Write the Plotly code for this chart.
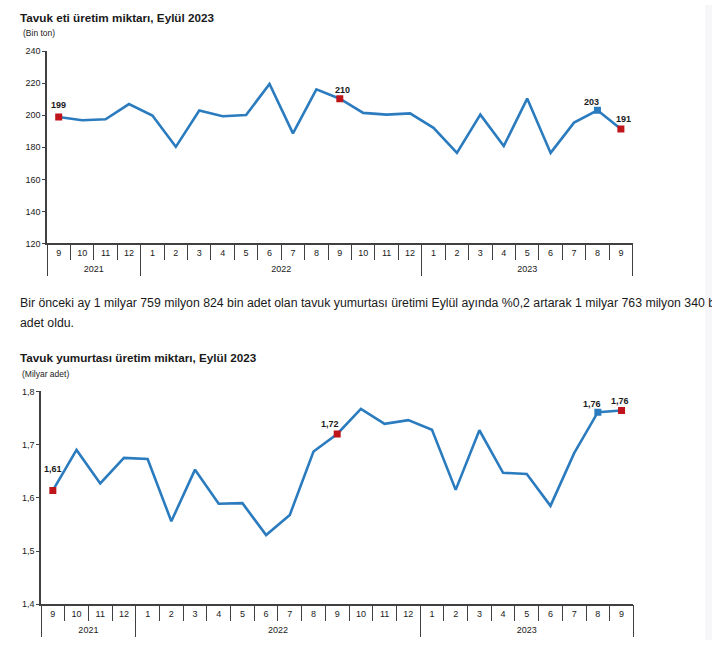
import plotly.graph_objects as go

# ---------------- data ----------------
months = ["9", "10", "11", "12", "1", "2", "3", "4", "5", "6", "7", "8",
          "9", "10", "11", "12", "1", "2", "3", "4", "5", "6", "7", "8", "9"]
years = ["2021", "2022", "2023"]
year_counts = [4, 12, 9]

meat = [198.9, 196.9, 197.5, 207.0, 199.8, 180.3, 203.0, 199.4, 200.2, 219.5,
        188.7, 216.2, 210.3, 201.5, 200.4, 201.2, 192.2, 176.5, 200.4, 180.8,
        210.4, 176.5, 195.4, 203.1, 191.4]
eggs = [1.614, 1.690, 1.627, 1.675, 1.673, 1.556, 1.653, 1.589, 1.590, 1.530,
        1.568, 1.687, 1.720, 1.767, 1.739, 1.746, 1.728, 1.615, 1.727, 1.647,
        1.645, 1.585, 1.684, 1.761, 1.764]
red_idx = [0, 12, 24]
blue_idx = [23]

title1 = "Tavuk eti üretim miktarı, Eylül 2023"
unit1 = "(Bin ton)"
title2 = "Tavuk yumurtası üretim miktarı, Eylül 2023"
unit2 = "(Milyar adet)"
para1 = ("Bir önceki ay 1 milyar 759 milyon 824 bin adet olan tavuk yumurtası üretimi "
         "Eylül ayında %0,2 artarak 1 milyar 763 milyon 340 bin")
para2 = "adet oldu."

# ---------------- styling ----------------
W, H = 712, 645
FONT = "Liberation Sans, Arial, sans-serif"
LINE = "#2b7bbf"
RED = "#c0141b"
AX = "#404040"
TXT = "#1a1a1a"

# empirical vertical correction of the page rendering
VOFF, VSCALE = 4.9, 0.983


def px(x):
    return x / W


def py(y):
    return 1 - ((y - VOFF) / VSCALE) / H


n = len(months)
xi = list(range(n))
month_bounds = [i - 0.5 for i in range(n + 1)]
year_bounds = [-0.5]
for c in year_counts:
    year_bounds.append(year_bounds[-1] + c)
year_centers = [(year_bounds[i] + year_bounds[i + 1]) / 2 for i in range(len(years))]

fig = go.Figure()
layout = dict(
    width=W, height=H, margin=dict(l=0, r=0, t=0, b=0, pad=0),
    paper_bgcolor="white", plot_bgcolor="white", showlegend=False,
    separators=",.", font=dict(family=FONT, color=TXT, size=9),
)


def add_chart(k, xdom, ydom, yrange, dtick, tickformat, values, fmt, label_offsets):
    xa = [f"xaxis{'' if 4 * k + j == 1 else 4 * k + j}" for j in range(1, 5)]
    xr = [f"x{'' if 4 * k + j == 1 else 4 * k + j}" for j in range(1, 5)]
    ya = "yaxis" if k == 0 else f"yaxis{k + 1}"
    yr = "y" if k == 0 else f"y{k + 1}"
    rng = [-0.5, n - 0.5]
    common = dict(range=rng, showgrid=False, zeroline=False, fixedrange=True)
    layout[xa[0]] = dict(domain=xdom, anchor=yr, tickmode="array", tickvals=month_bounds,
                         ticks="outside", ticklen=15, tickwidth=1, tickcolor=AX,
                         showticklabels=False, showline=True, linecolor=AX, linewidth=1.5,
                         **common)
    layout[xa[1]] = dict(overlaying=xr[0], anchor=yr, tickmode="array", tickvals=xi,
                         ticktext=months, ticks="outside", ticklen=1,
                         tickcolor="rgba(0,0,0,0)", showline=False,
                         tickfont=dict(size=9, color=TXT), **common)
    layout[xa[2]] = dict(overlaying=xr[0], anchor=yr, tickmode="array", tickvals=year_bounds,
                         ticks="outside", ticklen=32, tickwidth=1, tickcolor=AX,
                         showticklabels=False, showline=False, **common)
    layout[xa[3]] = dict(overlaying=xr[0], anchor=yr, tickmode="array", tickvals=year_centers,
                         ticktext=years, ticks="outside", ticklen=17,
                         tickcolor="rgba(0,0,0,0)", showline=False,
                         tickfont=dict(size=9, color=TXT), **common)
    layout[ya] = dict(domain=ydom, anchor=xr[0], range=yrange, dtick=dtick, tick0=yrange[0],
                      tickformat=tickformat, ticks="outside", ticklen=3, tickwidth=1,
                      tickcolor=AX, showline=True, linecolor=AX, linewidth=1.5,
                      showgrid=False, zeroline=False, fixedrange=True,
                      tickfont=dict(size=9, color=TXT))
    for j in range(1, 4):
        fig.add_trace(go.Scatter(x=xi, y=values, xaxis=xr[j], yaxis=yr, mode="lines",
                                 line=dict(color="rgba(0,0,0,0)", width=0),
                                 hoverinfo="skip"))
    fig.add_trace(go.Scatter(x=xi, y=values, xaxis=xr[0], yaxis=yr, mode="lines",
                             line=dict(color=LINE, width=2.6), hoverinfo="skip"))
    fig.add_trace(go.Scatter(x=[xi[i] for i in red_idx], y=[values[i] for i in red_idx],
                             xaxis=xr[0], yaxis=yr, mode="markers",
                             marker=dict(symbol="square", size=7, color=RED),
                             hoverinfo="skip"))
    fig.add_trace(go.Scatter(x=[xi[i] for i in blue_idx], y=[values[i] for i in blue_idx],
                             xaxis=xr[0], yaxis=yr, mode="markers",
                             marker=dict(symbol="square", size=7, color=LINE),
                             hoverinfo="skip"))
    for i, (dx, dy) in label_offsets.items():
        fig.add_annotation(x=xi[i], y=values[i], xref=xr[0], yref=yr, text=fmt(values[i]),
                           showarrow=False, xshift=dx, yshift=dy,
                           font=dict(size=9, color=TXT, weight="bold"))


add_chart(0, [px(47), px(632.6)], [py(243), py(51)], [120, 240], 20, "d", meat,
          lambda v: f"{v:.0f}",
          {0: (0, 12), 12: (3, 9), 23: (-6, 8), 24: (3, 10.5)})
add_chart(1, [px(41), px(633.4)], [py(603.3), py(390.7)], [1.4, 1.8], 0.1, ".1f", eggs,
          lambda v: f"{v:.2f}".replace(".", ","),
          {0: (0, 21), 12: (-7, 10), 23: (-6, 8), 24: (-2, 9.5)})

texts = [
    (title1, 18, 17, 11.7, "bold"),
    (unit1, 21, 33, 8.5, "normal"),
    (para1, 18, 302, 12.3, "normal"),
    (para2, 18, 322, 12.3, "normal"),
    (title2, 18, 357, 11.7, "bold"),
    (unit2, 20, 373, 8.5, "normal"),
]
for t, x, y, s, w in texts:
    fig.add_annotation(x=px(x), y=py(y), xref="paper", yref="paper", text=t,
                       showarrow=False, xanchor="left", yanchor="middle",
                       font=dict(size=s, color=TXT, weight=w, family=FONT))

layout["shapes"] = [dict(type="rect", xref="paper", yref="paper", x0=px(705), x1=1,
                         y0=0, y1=1, fillcolor="#f7f7fa", line=dict(width=0),
                         layer="below")]

fig.update_layout(**layout)
fig.write_html("out.html", config={"displayModeBar": False},
               post_script="document.body.style.margin='0';document.body.style.padding='0';"
                           "document.body.style.overflow='hidden';")
